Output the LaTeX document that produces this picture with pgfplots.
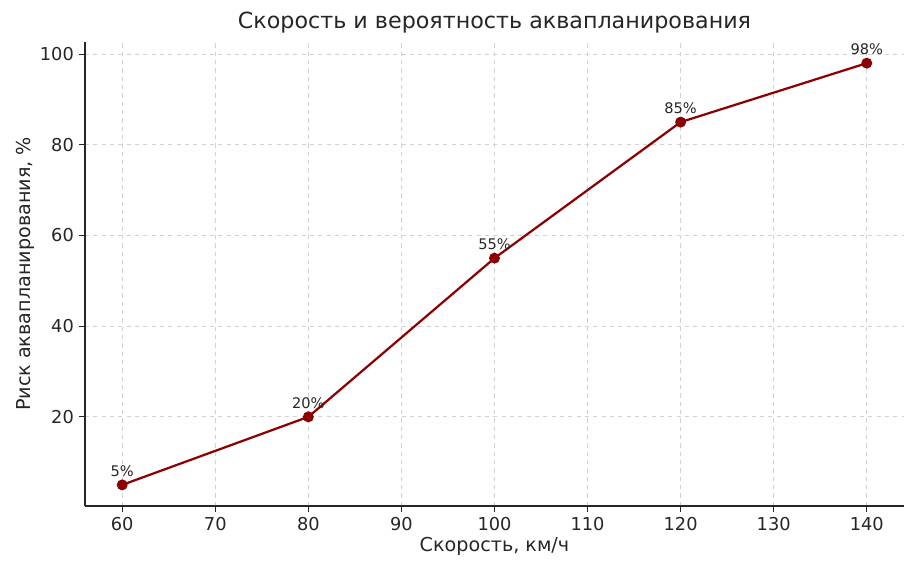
\documentclass[border=0pt]{standalone}
\usepackage{pgfplots}
\pgfplotsset{compat=1.18}
\usepackage{fontspec}
\setmainfont{DejaVu Sans}
\definecolor{linered}{HTML}{8B0000}
\definecolor{txt}{HTML}{262626}
\begin{document}
\begin{tikzpicture}
    \begin{axis}[
        scale only axis,
        width            = 589.7pt,
        height           = 334pt,
        xmin = 56, xmax = 144,
        ymin = 0.35, ymax = 102.65,
        xtick            = {60,70,...,140},
        ytick            = {20,40,60,80,100},
        axis x line*     = bottom,
        axis y line*     = left,
        axis line style  = {-, txt, line width=0.9pt},
        tick style       = {txt, line width=0.8pt},
        tick align       = outside,
        major tick length= 4.5pt,
        grid             = major,
        major grid style = {dashed, gray!35, line width=0.6pt},
        ticklabel style  = {font=\fontsize{12.8}{15}\selectfont, text=txt},
        /pgf/number format/assume math mode=true,
        xlabel           = {Скорость, км/ч},
        ylabel           = {Риск аквапланирования, \%},
        label style      = {font=\fontsize{13.8}{16}\selectfont, text=txt},
        xlabel style     = {yshift=2pt},
        ylabel style     = {yshift=-3pt},
        title            = {Скорость и вероятность аквапланирования},
        title style      = {font=\fontsize{16}{18}\selectfont, text=txt, yshift=-3pt},
        clip             = false,
        nodes near coords,
        point meta       = explicit symbolic,
        nodes near coords style = {font=\fontsize{10.5}{12}\selectfont, text=txt, anchor=south, yshift=2pt},
        ]
        \addplot[
            line width   = 1.6pt,
            color        = linered,
            mark         = *,
            mark size    = 3.1pt,
            mark options = {fill=linered, draw=linered}]
            coordinates {
                (60,5)   [5\%]
                (80,20)  [20\%]
                (100,55) [55\%]
                (120,85) [85\%]
                (140,98) [98\%]
            };
    \end{axis}
    \path (-61.2pt,-45.4pt) rectangle (600.5pt,364.3pt);
\end{tikzpicture}
\end{document}
